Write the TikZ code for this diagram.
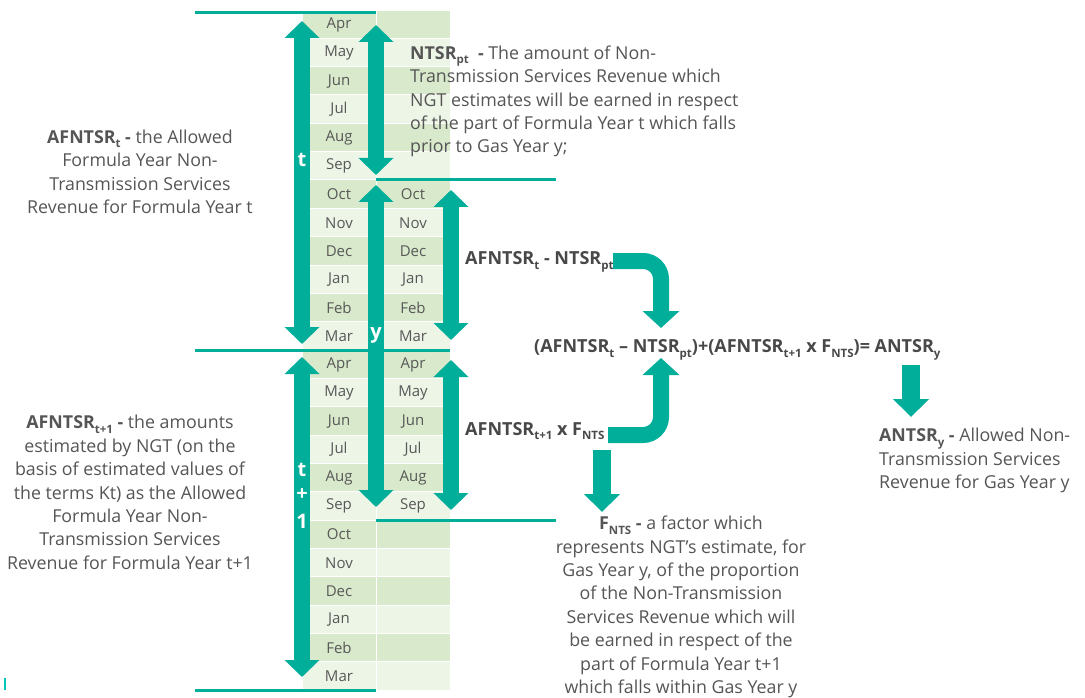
\documentclass[tikz,border=0pt]{standalone}
\usepackage{fontspec}
\setmainfont{Open Sans}
\usetikzlibrary{arrows.meta}
\definecolor{teal1}{HTML}{00AE9A}
\definecolor{cdark}{HTML}{D9E9CB}
\definecolor{clight}{HTML}{EDF5E7}
\definecolor{txt}{HTML}{555555}
\definecolor{mtxt}{HTML}{585858}
\newcommand\sbs[1]{\raisebox{-0.45ex}{\fontsize{11.5}{12}\selectfont #1}}
\tikzset{
  month/.style={font=\fontsize{15}{15}\selectfont, text=mtxt, inner sep=0pt},
  body/.style={font=\fontsize{17.8}{23.4}\selectfont, text=txt, inner sep=0pt},
  bodyb/.style={font=\fontsize{18}{23.4}\selectfont\bfseries, text=txt!85!black, inner sep=0pt},
  rule/.style={draw=teal1, line width=3pt},
  fat/.style={draw=teal1, line width=16pt, {Triangle[width=34pt,length=17pt]}-{Triangle[width=34pt,length=17pt]}},
  curv/.style={draw=teal1, line width=16pt, rounded corners=18pt, -{Triangle[width=36pt,length=17pt]}},
  down/.style={draw=teal1, line width=18pt, -{Triangle[width=35pt,length=18pt]}},
  albl/.style={text=white, font=\fontsize{20}{20}\selectfont\bfseries, inner sep=0pt},
}
\begin{document}
\begin{tikzpicture}[x=1pt,y=-1pt]
\useasboundingbox (0,0) rectangle (1085,698);
% month table
\begin{scope}
\clip (0,12) rectangle (1085,698);
\foreach \m [count=\i from 0] in {Apr,May,Jun,Jul,Aug,Sep,Oct,Nov,Dec,Jan,Feb,Mar,Apr,May,Jun,Jul,Aug,Sep,Oct,Nov,Dec,Jan,Feb,Mar}{
  \pgfmathsetmacro\yt{10+\i*28.3333}
  \pgfmathsetmacro\yb{\yt+28.3333}
  \ifodd\i \def\cc{clight}\else\def\cc{cdark}\fi
  \path[fill=\cc, draw=white, line width=1pt] (302,\yt) rectangle (376,\yb);
  \path[fill=\cc, draw=white, line width=1pt] (376,\yt) rectangle (450,\yb);
  \node[month] (L\i) at (339,\yt+14.6) {\m};
  \ifnum\i>5 \ifnum\i<18 \node[month] (R\i) at (413,\yt+14.6) {\m};\fi\fi
}
\end{scope}
% rules
\coordinate (r1a) at (195,13);  \coordinate (r1b) at (376,13);
\coordinate (r2a) at (376,180); \coordinate (r2b) at (556,180);
\coordinate (r3a) at (195,350); \coordinate (r3b) at (450,350);
\coordinate (r4a) at (376,520); \coordinate (r4b) at (556,520);
\coordinate (r5a) at (195,690); \coordinate (r5b) at (376,690);
\draw[rule] (r1a) -- (r1b);
\draw[rule] (r2a) -- (r2b);
\draw[rule] (r3a) -- (r3b);
\draw[rule] (r4a) -- (r4b);
\draw[rule] (r5a) -- (r5b);
% double arrows
\coordinate (tA) at (302,21);  \coordinate (tB) at (302,344);
\coordinate (pA) at (376,25);  \coordinate (pB) at (376,175);
\coordinate (yA) at (376,185); \coordinate (yB) at (376,507);
\coordinate (qA) at (451,190); \coordinate (qB) at (451,340);
\coordinate (sA) at (451,360); \coordinate (sB) at (451,510);
\coordinate (uA) at (302,357); \coordinate (uB) at (302,677);
\draw[fat] (tA) -- (tB);
\draw[fat] (pA) -- (pB);
\draw[fat] (yA) -- (yB);
\draw[fat] (qA) -- (qB);
\draw[fat] (sA) -- (sB);
\draw[fat] (uA) -- (uB);
\node[albl] (lt) at (302,160) {t};
\node[albl] (ly) at (376,335) {y};
\node[albl] (lt1) at (302,470) {t};
\node[albl] (lp1) at (302,495) {+};
\node[albl] (l11) at (302,521) {1};
% texts
\node[body, align=center] (afn) at (140,172) {\textbf{AFNTSR\sbs{t} -} the Allowed\\Formula Year Non-\\Transmission Services\\Revenue for Formula Year t};
\node[body, align=center] (afn1) at (130,492.5) {\textbf{AFNTSR\sbs{t+1} -} the amounts\\estimated by NGT (on the\\basis of estimated values of\\the terms Kt) as the Allowed\\Formula Year Non-\\Transmission Services\\Revenue for Formula Year t+1};
\node[body, align=left, anchor=west] (ntsr) at (410,101.5) {\textbf{NTSR\sbs{pt}\ \ -} The amount of Non-\\Transmission Services Revenue which\\NGT estimates will be earned in respect\\of the part of Formula Year t which falls\\prior to Gas Year y;};
\node[bodyb, anchor=west] (d1) at (465,262) {AFNTSR\sbs{t} - NTSR\sbs{pt}};
\node[bodyb, anchor=west] (d2) at (465,431) {AFNTSR\sbs{t+1} x F\sbs{NTS}};
\node[bodyb, anchor=west] (eq) at (534,350) {(AFNTSR\sbs{t} -- NTSR\sbs{pt})+(AFNTSR\sbs{t+1} x F\sbs{NTS})= ANTSR\sbs{y}};
\node[body, align=center] (fnts) at (681,607) {\textbf{F\sbs{NTS} -} a factor which\\represents NGT’s estimate, for\\Gas Year y, of the proportion\\of the Non-Transmission\\Services Revenue which will\\be earned in respect of the\\part of Formula Year t+1\\which falls within Gas Year y};
\node[body, align=left, anchor=west] (antsr) at (879,460.5) {\textbf{ANTSR\sbs{y} -} Allowed Non-\\Transmission Services\\Revenue for Gas Year y};
% curved and down arrows
\coordinate (c1a) at (613,261); \coordinate (c1b) at (661,328);
\coordinate (c2a) at (608,435); \coordinate (c2b) at (661,358);
\draw[curv] (c1a) -| (c1b);
\draw[curv] (c2a) -| (c2b);
\coordinate (f1a) at (602,450); \coordinate (f1b) at (602,512);
\coordinate (g1a) at (911,365); \coordinate (g1b) at (911,417);
\draw[down] (f1a) -- (f1b);
\draw[down] (g1a) -- (g1b);
% small mark
\fill[teal1!70!cyan] (4,678) rectangle (6,690);
\end{tikzpicture}
\end{document}
